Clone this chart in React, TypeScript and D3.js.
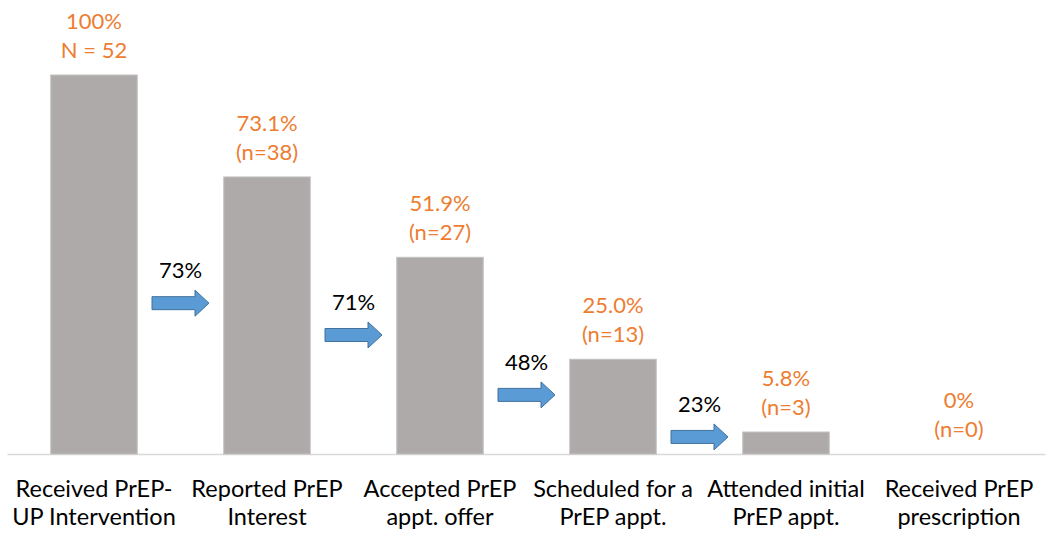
import React from "react";
import * as d3 from "d3";

const categories = [
  ["Received PrEP-", "UP Intervention"],
  ["Reported PrEP", "Interest"],
  ["Accepted PrEP", "appt. offer"],
  ["Scheduled for a", "PrEP appt."],
  ["Attended initial", "PrEP appt."],
  ["Received PrEP", "prescription"],
];
const percents = [100, 73.1, 51.9, 25.0, 5.8, 0];
const pctLabels = ["100%", "73.1%", "51.9%", "25.0%", "5.8%", "0%"];
const countLabels = ["N = 52", "(n=38)", "(n=27)", "(n=13)", "(n=3)", "(n=0)"];
const conversionLabels = ["73%", "71%", "48%", "23%"];
// vertical level (in chart % units) at which each conversion arrow sits
const arrowLevels = [39.8, 31.4, 15.6, 4.5];

const W = 1050;
const H = 538;
const FONT = "Lato, 'Open Sans', sans-serif";

export default function App() {
  const x = d3
    .scaleBand<number>()
    .domain(d3.range(categories.length))
    .range([7.5, 1045.5])
    .paddingInner(0.5)
    .paddingOuter(0.25);
  const y = d3.scaleLinear().domain([0, 100]).range([454, 75]);
  const bw = x.bandwidth();

  const arrowPath = (cx: number, cy: number) => {
    const len = 57, shaftH = 13, headH = 26, headL = 14;
    const x0 = cx - len / 2, x1 = cx + len / 2, xh = x1 - headL;
    return `M${x0},${cy - shaftH / 2}L${xh},${cy - shaftH / 2}L${xh},${cy - headH / 2}L${x1},${cy}L${xh},${cy + headH / 2}L${xh},${cy + shaftH / 2}L${x0},${cy + shaftH / 2}Z`;
  };

  return (
    <svg
      width={W}
      height={H}
      style={{ position: "absolute", left: 0, top: 0, background: "#fff" }}
      fontFamily={FONT}
    >
      <line x1={7.5} x2={1045.5} y1={y(0) + 0.5} y2={y(0) + 0.5} stroke="#D9D9D9" strokeWidth={1.5} />
      {percents.map((p, i) => (
        <g key={i}>
          {p > 0 && (
            <rect
              x={x(i)!}
              y={y(p)}
              width={bw}
              height={y(0) - y(p)}
              fill="#AEAAAA"
              stroke="#C4C1C1"
              strokeWidth={1}
            />
          )}
          <text x={x(i)! + bw / 2} y={y(p) - 46} textAnchor="middle" fill="#ED7D31" fontSize={22}>
            {pctLabels[i]}
          </text>
          <text x={x(i)! + bw / 2} y={y(p) - 17} textAnchor="middle" fill="#ED7D31" fontSize={22}>
            {countLabels[i]}
          </text>
          <text x={x(i)! + bw / 2} y={497} textAnchor="middle" fill="#000" fontSize={23.5}>
            {categories[i][0]}
          </text>
          <text x={x(i)! + bw / 2} y={525} textAnchor="middle" fill="#000" fontSize={23.5}>
            {categories[i][1]}
          </text>
        </g>
      ))}
      {conversionLabels.map((lab, i) => {
        const cx = (x(i)! + bw + x(i + 1)!) / 2;
        const cy = y(arrowLevels[i]);
        return (
          <g key={"a" + i}>
            <path d={arrowPath(cx, cy)} fill="#5B9BD5" stroke="#41719C" strokeWidth={1} />
            <text x={cx} y={cy - 25} textAnchor="middle" fill="#000" fontSize={22}>
              {lab}
            </text>
          </g>
        );
      })}
    </svg>
  );
}
